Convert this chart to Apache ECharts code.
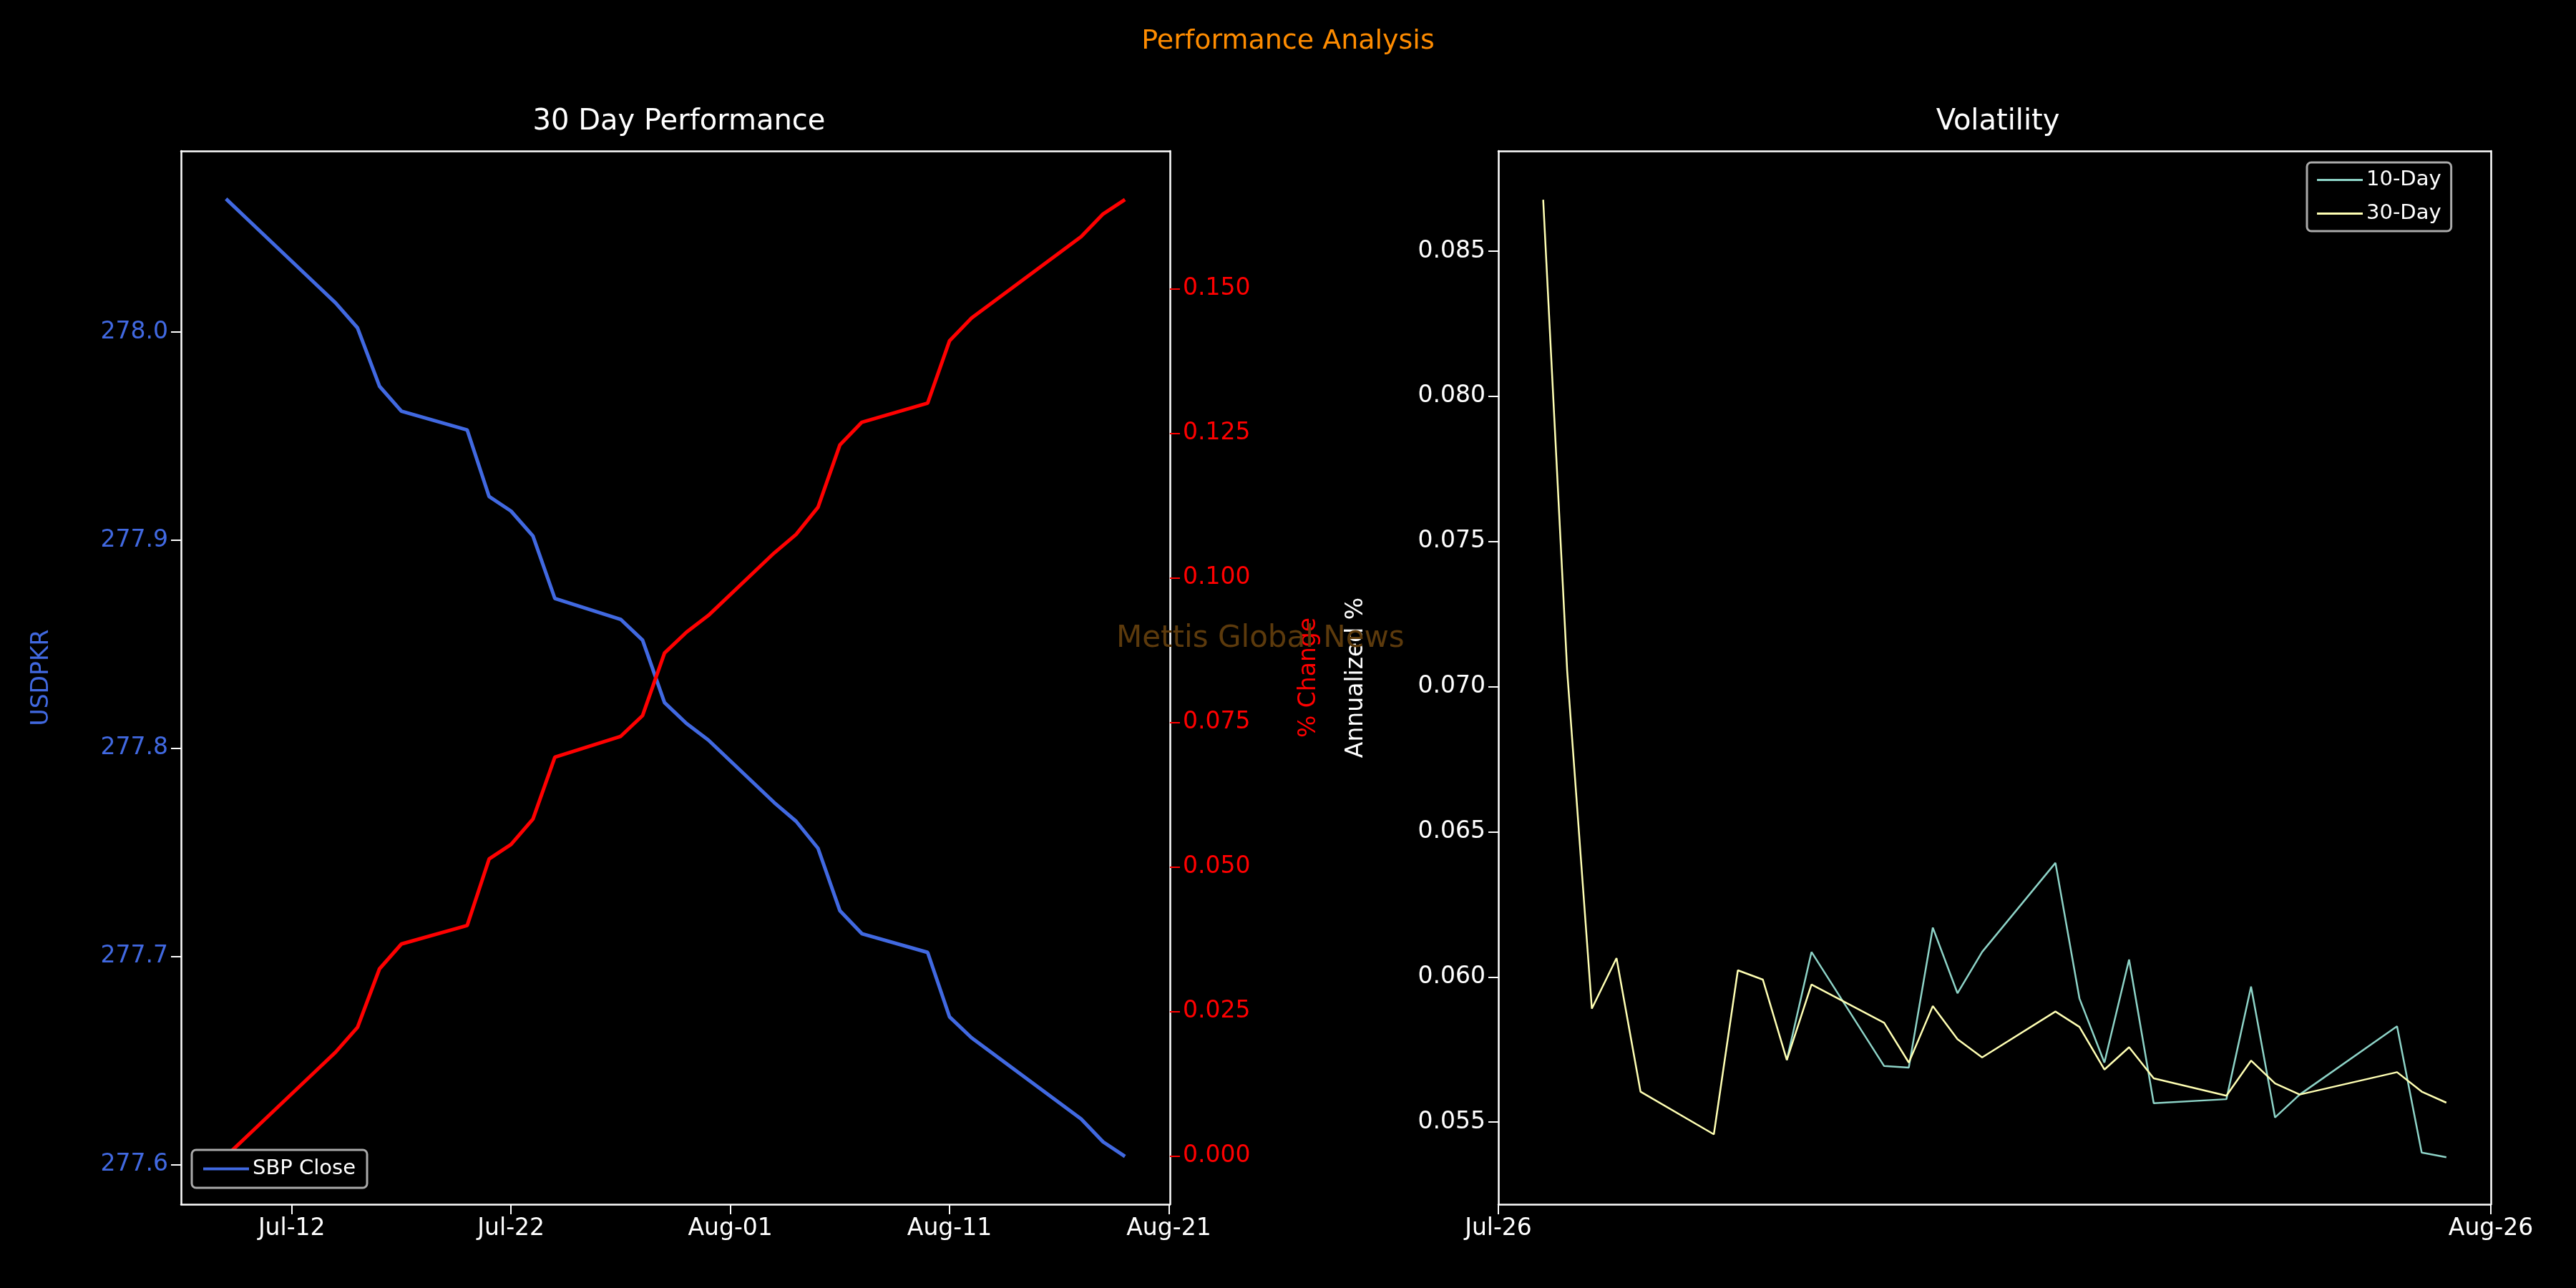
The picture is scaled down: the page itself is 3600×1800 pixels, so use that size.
<!DOCTYPE html>
<html><head><meta charset="utf-8">
<script src="https://cdn.jsdelivr.net/npm/echarts@6/dist/echarts.min.js"></script>
<style>html,body{margin:0;background:#000}#c{width:3600px;height:1800px}</style>
</head><body><div id="c"></div>
<script>
const sbpDates = ['2026-07-09','2026-07-10','2026-07-13','2026-07-14','2026-07-15','2026-07-16','2026-07-17','2026-07-20','2026-07-21','2026-07-22','2026-07-23','2026-07-24','2026-07-27','2026-07-28','2026-07-29','2026-07-30','2026-07-31','2026-08-03','2026-08-04','2026-08-05','2026-08-06','2026-08-07','2026-08-10','2026-08-11','2026-08-12','2026-08-17','2026-08-18','2026-08-19'];
const sbpClose = [278.064,278.054,278.024,278.014,278.002,277.974,277.962,277.953,277.921,277.914,277.902,277.872,277.862,277.852,277.822,277.812,277.804,277.774,277.765,277.752,277.722,277.711,277.702,277.671,277.661,277.622,277.611,277.604];
const pctChange = [0,0.0036,0.0144,0.0180,0.0223,0.0324,0.0367,0.0399,0.0514,0.0539,0.0583,0.0690,0.0726,0.0762,0.0870,0.0906,0.0935,0.1043,0.1075,0.1122,0.1230,0.1269,0.1302,0.1410,0.1449,0.1590,0.1629,0.1654];
const volDays = [1.40,2.15,2.92,3.69,4.44,6.73,7.48,8.26,9.01,9.78,12.05,12.82,13.57,14.34,15.11,17.40,18.15,18.93,19.70,20.47,22.74,23.51,24.26,25.03,28.07,28.84,29.61];
const vol30 = [0.08677,0.07053,0.05891,0.06065,0.05605,0.05458,0.06023,0.05991,0.05714,0.05974,0.05842,0.05705,0.05900,0.05786,0.05723,0.05881,0.05828,0.05681,0.05758,0.05651,0.05591,0.05712,0.05633,0.05595,0.05672,0.05605,0.05567];
const vol10Start = 8;
const vol10 = [0.05714,0.06086,0.05693,0.05688,0.06170,0.05944,0.06086,0.06393,0.05926,0.05705,0.06060,0.05565,0.05579,0.05967,0.05516,0.05595,0.05830,0.05395,0.05379];
const leftXTicks = [12,22,32,42,52];
const leftYTicks = [277.6,277.7,277.8,277.9,278.0];
const pctTicks = [0,0.025,0.05,0.075,0.1,0.125,0.15];
const volYTicks = [0.055,0.06,0.065,0.07,0.075,0.08,0.085];
const volXTicks = [0,31];
const volXLabels = ['Jul-26','Aug-26'];

const base = Date.UTC(2026,6,1);
const dayNum = s => { const p=s.split('-'); return (Date.UTC(+p[0],+p[1]-1,+p[2])-base)/86400000+1; };
const dayLabel = d => { const t=new Date(base+(d-1)*86400000); const m=['Jan','Feb','Mar','Apr','May','Jun','Jul','Aug','Sep','Oct','Nov','Dec'][t.getUTCMonth()]; return m+'-'+String(t.getUTCDate()).padStart(2,'0'); };

const F='DejaVu Sans', W='#ffffff';
const tick = {show:true,inside:false,length:14,lineStyle:{color:W,width:2}};
const line = {show:true,onZero:false,lineStyle:{color:W,width:2.5}};
const blank = {show:false};
function frameAxis(gi,pos){return {type:'value',gridIndex:gi,position:pos,axisLine:line,axisTick:blank,axisLabel:blank,splitLine:blank,min:0,max:1};}

const chart = echarts.init(document.getElementById('c'));
chart.setOption({
  backgroundColor:'#000',
  animation:false,
  textStyle:{fontFamily:F},
  title:[
    {text:'Performance Analysis',left:'center',top:34,textStyle:{color:'#ff8c00',fontSize:38,fontWeight:'normal',fontFamily:F}},
    {text:'30 Day Performance',left:944,textAlign:'center',top:146,textStyle:{color:W,fontSize:40,fontWeight:'normal',fontFamily:F}},
    {text:'Volatility',left:2787,textAlign:'center',top:146,textStyle:{color:W,fontSize:40,fontWeight:'normal',fontFamily:F}}
  ],
  graphic:[{type:'text',left:1800-240,top:872,z:100,style:{text:'Mettis Global News',fill:'#5c3a0c',font:'42px "DejaVu Sans"'}}],
  grid:[
    {left:253,top:211,width:1382,height:1472},
    {left:2094,top:211,width:1387,height:1472}
  ],
  legend:[
    {data:['SBP Close'],left:268,top:1607,orient:'vertical',backgroundColor:'#000',borderColor:'#aaaaaa',borderWidth:3,borderRadius:6,padding:[12,16],itemWidth:64,itemHeight:4,textStyle:{color:W,fontSize:29,fontFamily:F},icon:'rect'},
    {data:['10-Day','30-Day'],left:3224,top:227,orient:'vertical',backgroundColor:'#000',borderColor:'#aaaaaa',borderWidth:3,borderRadius:6,padding:[10,14],itemGap:18,itemWidth:64,itemHeight:3,textStyle:{color:W,fontSize:29,fontFamily:F},icon:'rect'}
  ],
  xAxis:[
    {type:'value',gridIndex:0,min:6.95,max:52.05,axisLine:line,axisTick:{...tick,customValues:leftXTicks},splitLine:blank,
     axisLabel:{color:W,fontSize:33,margin:18,customValues:leftXTicks,formatter:v=>dayLabel(v)}},
    frameAxis(0,'top'),
    {type:'value',gridIndex:1,min:0,max:31,axisLine:line,axisTick:{...tick,customValues:volXTicks},splitLine:blank,
     axisLabel:{color:W,fontSize:33,margin:18,customValues:volXTicks,formatter:v=>volXLabels[volXTicks.indexOf(v)]}},
    frameAxis(1,'top')
  ],
  yAxis:[
    {type:'value',gridIndex:0,position:'left',min:277.581,max:278.087,axisLine:line,axisTick:{...tick,customValues:leftYTicks},splitLine:blank,
     axisLabel:{color:'#4169e1',fontSize:33,margin:18,customValues:leftYTicks,formatter:v=>v.toFixed(1)},
     name:'USDPKR',nameLocation:'middle',nameGap:178,nameTextStyle:{color:'#4169e1',fontSize:33}},
    {type:'value',gridIndex:0,position:'right',min:-0.0083,max:0.1738,axisLine:line,axisTick:{...tick,lineStyle:{color:'#ff0000',width:2},customValues:pctTicks},splitLine:blank,
     axisLabel:{color:'#ff0000',fontSize:33,margin:18,customValues:pctTicks,formatter:v=>v.toFixed(3)},
     name:'% Change',nameLocation:'middle',nameGap:178,nameRotate:90,nameTextStyle:{color:'#ff0000',fontSize:33}},
    {type:'value',gridIndex:1,position:'left',min:0.05217,max:0.08845,axisLine:line,axisTick:{...tick,customValues:volYTicks},splitLine:blank,
     axisLabel:{color:W,fontSize:33,margin:18,customValues:volYTicks,formatter:v=>v.toFixed(3)},
     name:'Annualized %',nameLocation:'middle',nameGap:182,nameTextStyle:{color:W,fontSize:33}},
    frameAxis(1,'right')
  ],
  series:[
    {name:'SBP Close',type:'line',xAxisIndex:0,yAxisIndex:0,showSymbol:false,color:'#4169e1',lineStyle:{width:5,color:'#4169e1'},data:sbpDates.map((d,i)=>[dayNum(d),sbpClose[i]])},
    {name:'% Change',type:'line',xAxisIndex:0,yAxisIndex:1,showSymbol:false,color:'#ff0000',lineStyle:{width:5,color:'#ff0000'},data:sbpDates.map((d,i)=>[dayNum(d),pctChange[i]])},
    {name:'10-Day',type:'line',xAxisIndex:2,yAxisIndex:2,showSymbol:false,color:'#8dd3c7',lineStyle:{width:2.5,color:'#8dd3c7'},data:vol10.map((v,i)=>[volDays[vol10Start+i],v])},
    {name:'30-Day',type:'line',xAxisIndex:2,yAxisIndex:2,showSymbol:false,color:'#ffffb3',lineStyle:{width:2.5,color:'#ffffb3'},data:vol30.map((v,i)=>[volDays[i],v])}
  ]
});
</script></body></html>
